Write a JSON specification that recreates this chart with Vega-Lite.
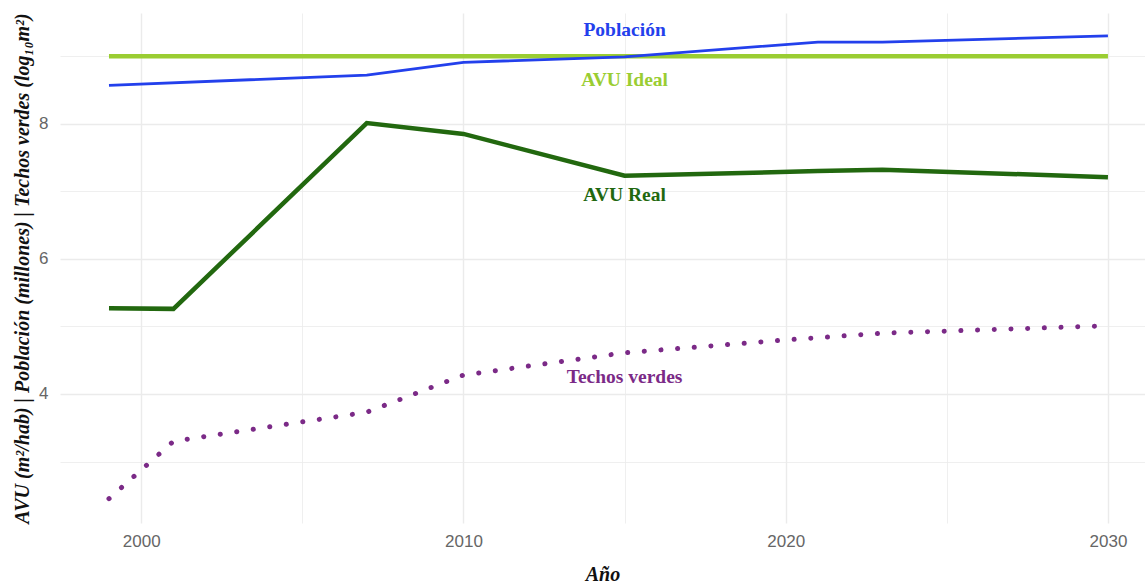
{
  "$schema": "https://vega.github.io/schema/vega-lite/v6.json",
  "width": 1085,
  "height": 510,
  "autosize": {"type": "none"},
  "padding": {"left": 60, "top": 13, "right": 0, "bottom": 63},
  "background": "white",
  "config": {
    "view": {"stroke": null},
    "axis": {
      "domain": false,
      "ticks": false,
      "gridColor": "#ebebeb",
      "labelFont": "Liberation Sans",
      "labelFontSize": 17,
      "labelColor": "#666666",
      "titleFont": "Liberation Serif",
      "titleFontStyle": "italic",
      "titleFontWeight": "bold",
      "titleFontSize": 20,
      "titleColor": "#111111",
      "labelOverlap": false,
      "labelFlush": false
    }
  },
  "datasets": {
    "lineas": [
      {"serie": "Techos verdes", "anio": 1999, "valor": 2.45},
      {"serie": "Techos verdes", "anio": 2001, "valor": 3.30},
      {"serie": "Techos verdes", "anio": 2007, "valor": 3.73},
      {"serie": "Techos verdes", "anio": 2010, "valor": 4.28},
      {"serie": "Techos verdes", "anio": 2015, "valor": 4.61},
      {"serie": "Techos verdes", "anio": 2020, "valor": 4.80},
      {"serie": "Techos verdes", "anio": 2023, "valor": 4.90},
      {"serie": "Techos verdes", "anio": 2030, "valor": 5.01},
      {"serie": "AVU Real", "anio": 1999, "valor": 5.27},
      {"serie": "AVU Real", "anio": 2001, "valor": 5.26},
      {"serie": "AVU Real", "anio": 2007, "valor": 8.01},
      {"serie": "AVU Real", "anio": 2010, "valor": 7.85},
      {"serie": "AVU Real", "anio": 2015, "valor": 7.23},
      {"serie": "AVU Real", "anio": 2021, "valor": 7.30},
      {"serie": "AVU Real", "anio": 2023, "valor": 7.32},
      {"serie": "AVU Real", "anio": 2030, "valor": 7.21},
      {"serie": "AVU Ideal", "anio": 1999, "valor": 9.0},
      {"serie": "AVU Ideal", "anio": 2030, "valor": 9.0},
      {"serie": "Población", "anio": 1999, "valor": 8.57},
      {"serie": "Población", "anio": 2007, "valor": 8.72},
      {"serie": "Población", "anio": 2010, "valor": 8.91},
      {"serie": "Población", "anio": 2015, "valor": 8.99},
      {"serie": "Población", "anio": 2021, "valor": 9.21},
      {"serie": "Población", "anio": 2023, "valor": 9.21},
      {"serie": "Población", "anio": 2030, "valor": 9.30}
    ],
    "etiquetas": [
      {"serie": "Población", "anio": 2015, "valor": 9.39},
      {"serie": "AVU Ideal", "anio": 2015, "valor": 8.65},
      {"serie": "AVU Real", "anio": 2015, "valor": 6.95},
      {"serie": "Techos verdes", "anio": 2015, "valor": 4.25}
    ]
  },
  "encoding": {
    "x": {
      "field": "anio",
      "type": "quantitative",
      "title": "Año",
      "scale": {"domain": [1997.48, 2031.15], "nice": false, "zero": false},
      "axis": {
        "values": [2000, 2005, 2010, 2015, 2020, 2025, 2030],
        "format": "d",
        "labelExpr": "datum.value % 10 === 0 ? datum.label : ''",
        "labelPadding": 10,
        "titlePadding": 15,
        "gridWidth": {"condition": {"test": "datum.value % 10 === 0", "value": 1.4}, "value": 0.8}
      }
    },
    "y": {
      "field": "valor",
      "type": "quantitative",
      "title": "AVU (m²/hab) | Población (millones) | Techos verdes (log₁₀m²)",
      "scale": {"domain": [2.09, 9.64], "nice": false, "zero": false},
      "axis": {
        "values": [3, 4, 5, 6, 7, 8, 9],
        "labelExpr": "datum.value % 2 === 0 ? datum.label : ''",
        "labelPadding": 12,
        "titlePadding": 6,
        "gridWidth": {"condition": {"test": "datum.value % 2 === 0", "value": 1.4}, "value": 0.8}
      }
    }
  },
  "layer": [
    {
      "data": {"name": "lineas"},
      "transform": [{"filter": "datum.serie === 'Techos verdes'"}],
      "mark": {"type": "line", "color": "#7b2a87", "strokeWidth": 5, "strokeDash": [0.1, 16.6], "strokeCap": "round"}
    },
    {
      "data": {"name": "lineas"},
      "transform": [{"filter": "datum.serie === 'AVU Real'"}],
      "mark": {"type": "line", "color": "#22680f", "strokeWidth": 4.5}
    },
    {
      "data": {"name": "lineas"},
      "transform": [{"filter": "datum.serie === 'AVU Ideal'"}],
      "mark": {"type": "line", "color": "#9acd32", "strokeWidth": 4.5}
    },
    {
      "data": {"name": "lineas"},
      "transform": [{"filter": "datum.serie === 'Población'"}],
      "mark": {"type": "line", "color": "#2340ec", "strokeWidth": 2.8}
    },
    {
      "data": {"name": "etiquetas"},
      "mark": {"type": "text", "font": "Liberation Serif", "fontWeight": "bold", "fontSize": 19.5, "align": "center", "baseline": "middle"},
      "encoding": {
        "text": {"field": "serie"},
        "color": {
          "field": "serie",
          "type": "nominal",
          "legend": null,
          "scale": {"domain": ["Población", "AVU Ideal", "AVU Real", "Techos verdes"], "range": ["#2340ec", "#9acd32", "#22680f", "#7b2a87"]}
        }
      }
    }
  ]
}
